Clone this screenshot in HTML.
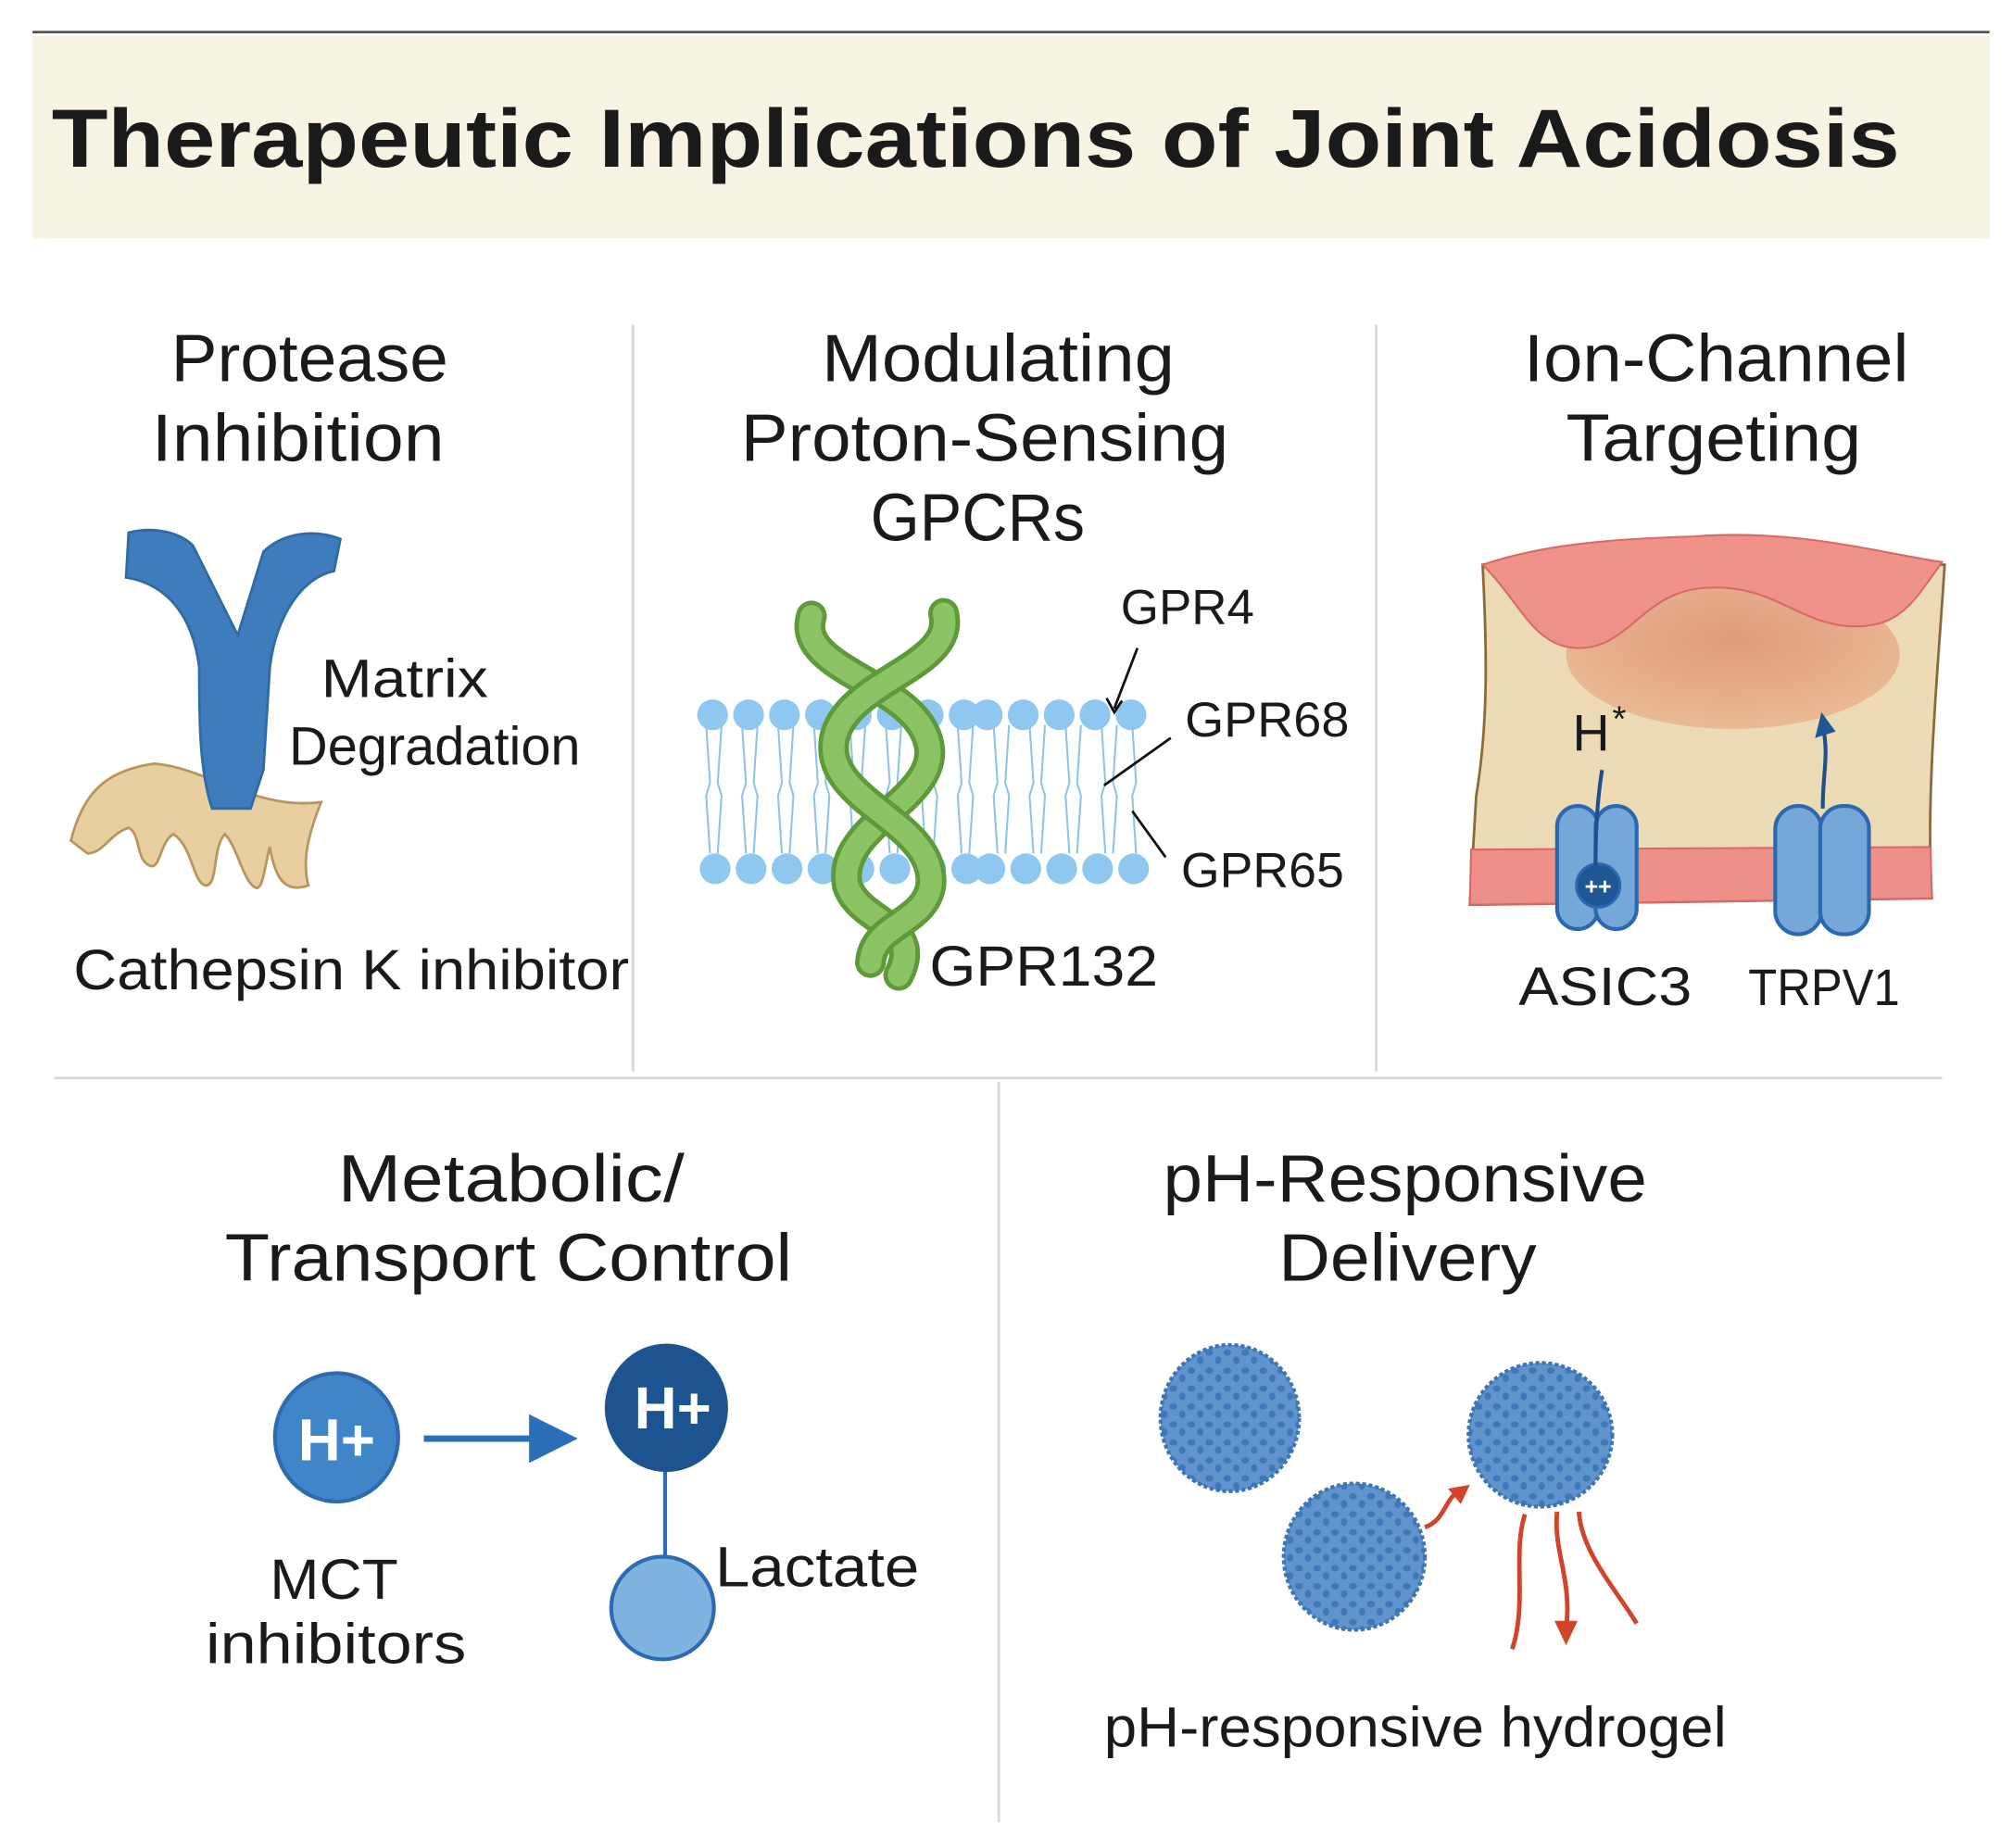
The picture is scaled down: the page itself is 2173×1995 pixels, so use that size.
<!DOCTYPE html>
<html><head><meta charset="utf-8"><style>
html,body{margin:0;padding:0;background:#fff;}
svg{display:block;}
text{font-family:"Liberation Sans","DejaVu Sans",sans-serif;fill:#1a1a1a;}
</style></head><body>
<svg width="2173" height="1995" viewBox="0 0 1568 1440" xmlns="http://www.w3.org/2000/svg">
<defs>
<radialGradient id="bump" cx="0.5" cy="0.4" r="0.6"><stop offset="0" stop-color="#dd8a70"/><stop offset="1" stop-color="#eab28c"/></radialGradient>
<pattern id="dots" width="14" height="14" patternUnits="userSpaceOnUse">
<rect width="14" height="14" fill="#5f95cc"/><ellipse cx="4" cy="4" rx="3" ry="2.5" fill="#3e78b8"/><ellipse cx="11" cy="10" rx="2.5" ry="3" fill="#3e78b8"/></pattern>
</defs>
<rect width="1568" height="1440" fill="#fff"/>
<line x1="25" y1="25" x2="1550" y2="25" stroke="#555" stroke-width="2"/>
<rect x="25" y="28" width="1525" height="158" fill="#f8f4e4"/>
<text x="40" y="130" font-size="64" font-weight="bold" textLength="1440" lengthAdjust="spacingAndGlyphs" fill="#111">Therapeutic Implications of Joint Acidosis</text>

<g stroke="#d8d8d8" stroke-width="2">
<line x1="493" y1="253" x2="493" y2="835"/>
<line x1="1072" y1="253" x2="1072" y2="835"/>
<line x1="42" y1="840" x2="1513" y2="840"/>
<line x1="778" y1="843" x2="778" y2="1420"/>
</g>

<g font-size="52" lengthAdjust="spacingAndGlyphs">
<text x="133" y="297" textLength="216" lengthAdjust="spacingAndGlyphs">Protease</text>
<text x="118" y="359" textLength="228" lengthAdjust="spacingAndGlyphs">Inhibition</text>
<text x="640" y="297" textLength="275" lengthAdjust="spacingAndGlyphs">Modulating</text>
<text x="577" y="359" textLength="380" lengthAdjust="spacingAndGlyphs">Proton-Sensing</text>
<text x="678" y="421" textLength="167" lengthAdjust="spacingAndGlyphs">GPCRs</text>
<text x="1187" y="297" textLength="300" lengthAdjust="spacingAndGlyphs">Ion-Channel</text>
<text x="1220" y="359" textLength="230" lengthAdjust="spacingAndGlyphs">Targeting</text>
<text x="263" y="936" textLength="270" lengthAdjust="spacingAndGlyphs">Metabolic/</text>
<text x="175" y="998" textLength="442" lengthAdjust="spacingAndGlyphs">Transport Control</text>
<text x="906" y="936" textLength="377" lengthAdjust="spacingAndGlyphs">pH-Responsive</text>
<text x="996" y="998" textLength="201" lengthAdjust="spacingAndGlyphs">Delivery</text>
</g>

<!-- Protease -->
<path d="M55,655 C65,615 85,600 120,595 C160,598 200,632 250,625 C240,650 235,670 240,690 C225,695 215,690 210,660 C205,680 205,690 200,692 C190,690 185,660 175,650 C165,660 170,690 160,690 C150,688 150,660 135,650 C125,655 125,675 118,675 C105,672 110,650 100,645 C85,650 80,665 68,665 Z" fill="#e8cfa0" stroke="#b89460" stroke-width="2"/>
<path d="M100,415 C120,410 140,415 150,425 L185,495 L205,430 C220,415 245,412 265,420 L260,445 C235,450 215,480 210,520 L205,600 L195,630 L165,630 C155,600 155,560 155,520 C150,480 130,455 98,450 Z" fill="#3f7cbc" stroke="#2e6aa5" stroke-width="2"/>
<text x="250" y="543" font-size="42" textLength="130" lengthAdjust="spacingAndGlyphs">Matrix</text>
<text x="225" y="596" font-size="42" textLength="227" lengthAdjust="spacingAndGlyphs">Degradation</text>
<text x="57" y="771" font-size="44" textLength="433" lengthAdjust="spacingAndGlyphs">Cathepsin K inhibitor</text>

<!-- Membrane -->
<g stroke="#8cc4ee" stroke-width="1.5" fill="none">
<path d="M550,565 l3,45 l-3,10 l3,45 M562,565 l-3,45 l3,10 l-3,45 M578,565 l3,45 l-3,10 l3,45 M590,565 l-3,45 l3,10 l-3,45 M606,565 l3,45 l-3,10 l3,45 M618,565 l-3,45 l3,10 l-3,45 M634,565 l3,45 l-3,10 l3,45 M646,565 l-3,45 l3,10 l-3,45 M662,565 l3,45 l-3,10 l3,45 M674,565 l-3,45 l3,10 l-3,45 M690,565 l3,45 l-3,10 l3,45 M702,565 l-3,45 l3,10 l-3,45 M718,565 l3,45 l-3,10 l3,45 M730,565 l-3,45 l3,10 l-3,45 M746,565 l3,45 l-3,10 l3,45 M758,565 l-3,45 l3,10 l-3,45 M774,565 l3,45 l-3,10 l3,45 M786,565 l-3,45 l3,10 l-3,45 M802,565 l3,45 l-3,10 l3,45 M814,565 l-3,45 l3,10 l-3,45 M830,565 l3,45 l-3,10 l3,45 M842,565 l-3,45 l3,10 l-3,45 M858,565 l3,45 l-3,10 l3,45 M870,565 l-3,45 l3,10 l-3,45 M882,565 l3,45 l-3,10 l3,45"/>
</g>
<g fill="#8ec8f0">
<circle cx="555" cy="557" r="12"/><circle cx="583" cy="557" r="12"/><circle cx="611" cy="557" r="12"/><circle cx="639" cy="557" r="12"/><circle cx="667" cy="557" r="12"/><circle cx="695" cy="557" r="12"/><circle cx="723" cy="557" r="12"/><circle cx="751" cy="557" r="12"/><circle cx="769" cy="557" r="12"/><circle cx="797" cy="557" r="12"/><circle cx="825" cy="557" r="12"/><circle cx="853" cy="557" r="12"/><circle cx="881" cy="557" r="12"/>
<circle cx="557" cy="677" r="12"/><circle cx="585" cy="677" r="12"/><circle cx="613" cy="677" r="12"/><circle cx="641" cy="677" r="12"/><circle cx="669" cy="677" r="12"/><circle cx="697" cy="677" r="12"/><circle cx="725" cy="677" r="12"/><circle cx="753" cy="677" r="12"/><circle cx="771" cy="677" r="12"/><circle cx="799" cy="677" r="12"/><circle cx="827" cy="677" r="12"/><circle cx="855" cy="677" r="12"/><circle cx="883" cy="677" r="12"/>
</g>
<g fill="none" stroke-linecap="round">
<path d="M632,480 C620,520 700,530 720,570 C745,620 650,640 660,690 C670,720 720,720 700,760" stroke="#5e9a3a" stroke-width="24"/>
<path d="M632,480 C620,520 700,530 720,570 C745,620 650,640 660,690 C670,720 720,720 700,760" stroke="#8cc465" stroke-width="17"/>
<path d="M735,478 C745,520 660,530 650,575 C640,625 730,640 725,690 C720,720 680,720 678,750" stroke="#5e9a3a" stroke-width="24"/>
<path d="M735,478 C745,520 660,530 650,575 C640,625 730,640 725,690 C720,720 680,720 678,750" stroke="#8cc465" stroke-width="17"/>
</g>
<g stroke="#111" stroke-width="2" fill="none">
<path d="M886,505 L868,552"/><path d="M862,544 L868,555 L874,546"/>
<path d="M912,575 L860,612"/>
<path d="M908,668 L882,632"/>
</g>
<g font-size="38">
<text x="873" y="486" textLength="104" lengthAdjust="spacingAndGlyphs">GPR4</text>
<text x="923" y="574" textLength="128" lengthAdjust="spacingAndGlyphs">GPR68</text>
<text x="920" y="691" textLength="127" lengthAdjust="spacingAndGlyphs">GPR65</text>
</g>
<text x="724" y="768" font-size="44" textLength="178" lengthAdjust="spacingAndGlyphs">GPR132</text>

<!-- Ion channel -->
<path d="M1155,440 C1158,500 1160,560 1150,620 L1145,705 L1505,700 C1500,620 1510,520 1515,440 Z" fill="#ecdbb5" stroke="#8a6a3a" stroke-width="2"/>
<ellipse cx="1350" cy="510" rx="130" ry="58" fill="url(#bump)" opacity="0.8"/>
<path d="M1155,440 C1200,425 1250,420 1320,418 C1400,412 1460,430 1513,438 C1490,470 1480,490 1440,488 C1400,485 1380,455 1330,458 C1280,460 1270,505 1230,505 C1195,505 1185,470 1155,440 Z" fill="#f0928a" stroke="#d86a66" stroke-width="1.5"/>
<path d="M1146,662 L1504,660 L1505,700 L1145,705 Z" fill="#ef8f89" stroke="#d86a66" stroke-width="1.5"/>
<g fill="#75a8d8" stroke="#2b68b0" stroke-width="3">
<rect x="1213" y="628" width="32" height="96" rx="16"/><rect x="1243" y="628" width="32" height="96" rx="16"/>
<rect x="1383" y="628" width="36" height="100" rx="18"/><rect x="1418" y="628" width="38" height="100" rx="18"/>
</g>
<circle cx="1245" cy="690" r="17" fill="#1f5796" stroke="#2b68b0" stroke-width="2"/>
<text x="1245" y="697" font-size="18" font-weight="bold" text-anchor="middle" style="fill:#fff">++</text>
<path d="M1248,600 C1245,620 1243,640 1243,675" stroke="#1f4f8f" stroke-width="3" fill="none"/>
<path d="M1420,630 C1420,600 1425,590 1420,565" stroke="#1f4f8f" stroke-width="3" fill="none"/>
<path d="M1414,575 L1419,555 L1430,570 Z" fill="#1f5796"/>
<text x="1225" y="585" font-size="40">H</text><text x="1256" y="570" font-size="28">*</text>
<text x="1183" y="783" font-size="42" textLength="135" lengthAdjust="spacingAndGlyphs">ASIC3</text>
<text x="1362" y="783" font-size="40" textLength="118" lengthAdjust="spacingAndGlyphs">TRPV1</text>

<!-- Metabolic -->
<ellipse cx="262" cy="1120" rx="48" ry="50" fill="#3f86c8" stroke="#2d6ab0" stroke-width="3"/>
<text x="262" y="1138" font-size="46" font-weight="bold" text-anchor="middle" style="fill:#fff">H+</text>
<line x1="330" y1="1121" x2="420" y2="1121" stroke="#2b6fb8" stroke-width="5"/>
<path d="M412,1102 L450,1121 L412,1140 Z" fill="#2b6fb8"/>
<line x1="518" y1="1140" x2="518" y2="1215" stroke="#2b6fb8" stroke-width="3"/>
<ellipse cx="519" cy="1097" rx="48" ry="50" fill="#1d5490"/>
<text x="524" y="1113" font-size="46" font-weight="bold" text-anchor="middle" style="fill:#fff">H+</text>
<ellipse cx="516" cy="1253" rx="40" ry="40" fill="#7fb3e0" stroke="#2d6ab0" stroke-width="3"/>
<text x="557" y="1236" font-size="44" textLength="159" lengthAdjust="spacingAndGlyphs">Lactate</text>
<text x="210" y="1246" font-size="44" textLength="100" lengthAdjust="spacingAndGlyphs">MCT</text>
<text x="160" y="1296" font-size="44" textLength="203" lengthAdjust="spacingAndGlyphs">inhibitors</text>

<!-- Delivery -->
<g stroke="#3f74b4" stroke-width="3" stroke-dasharray="3 2">
<ellipse cx="958" cy="1105" rx="54" ry="57" fill="url(#dots)"/>
<ellipse cx="1200" cy="1118" rx="56" ry="56" fill="url(#dots)"/>
<ellipse cx="1055" cy="1213" rx="55" ry="57" fill="url(#dots)"/>
</g>
<g stroke="#d0442a" stroke-width="3.5" fill="none">
<path d="M1110,1190 C1125,1185 1125,1170 1135,1163"/>
<path d="M1188,1180 C1178,1210 1190,1250 1178,1285"/>
<path d="M1213,1178 C1210,1210 1225,1230 1220,1270"/>
<path d="M1230,1178 C1232,1210 1260,1240 1275,1265"/>
</g>
<path d="M1128,1160 L1145,1157 L1138,1172 Z" fill="#d0442a"/>
<path d="M1211,1263 L1229,1263 L1220,1282 Z" fill="#d0442a"/>
<text x="860" y="1361" font-size="44" textLength="485" lengthAdjust="spacingAndGlyphs">pH-responsive hydrogel</text>
</svg>
</body></html>
